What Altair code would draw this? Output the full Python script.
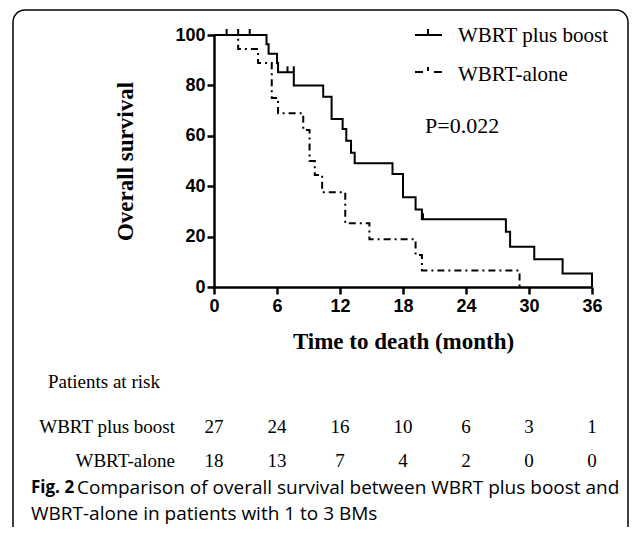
import altair as alt
import pandas as pd

# ---- data ----
boost_t = [0, 5.0, 5.2, 6.0, 6.1, 7.6, 10.4, 11.2, 12.25, 12.6, 13.05, 13.4,
           17.0, 18.0, 19.2, 19.8, 27.8, 28.2, 30.5, 33.2, 36.0, 36.0]
boost_s = [100, 96.3, 92.6, 88.9, 85.2, 80.0, 75.5, 66.7, 62.7, 58.0, 53.3, 49.1,
           44.8, 35.6, 30.8, 26.9, 21.9, 16.0, 11.0, 5.4, 5.4, 0]
alone_t = [0, 2.3, 4.2, 5.5, 6.1, 8.5, 9.1, 9.6, 10.3, 12.5, 14.8, 19.2, 19.8, 29.1]
alone_s = [100, 94.4, 88.9, 75.0, 68.9, 62.3, 50.0, 44.4, 37.6, 25.3, 18.9, 12.7, 6.5, 0]
boost_censor_t = [1.2, 2.3, 3.4, 7.0, 7.6, 19.9]
boost_censor_s = [100, 100, 100, 85.2, 85.2, 26.9]

risk_times = [0, 6, 12, 18, 24, 30, 36]
risk_boost = [27, 24, 16, 10, 6, 3, 1]
risk_alone = [18, 13, 7, 4, 2, 0, 0]

x_ticks = [0, 6, 12, 18, 24, 30, 36]
y_ticks = [0, 20, 40, 60, 80, 100]

boost_df = pd.DataFrame({"t": boost_t, "s": boost_s, "i": range(len(boost_t))})
alone_df = pd.DataFrame({"t": alone_t, "s": alone_s, "i": range(len(alone_t))})
cens_df = pd.DataFrame({"t": boost_censor_t, "s": boost_censor_s})
risk_b_df = pd.DataFrame({"t": risk_times, "n": risk_boost})
risk_a_df = pd.DataFrame({"t": risk_times, "n": risk_alone})
dummy = pd.DataFrame({"a": [0]})

W, H = 378, 252
SERIF = "Liberation Serif"
SANS = "Liberation Sans"

xaxis = alt.Axis(values=x_ticks, title="Time to death (month)", grid=False,
                 labelFont=SANS, labelFontWeight="bold", labelFontSize=18,
                 labelColor="black", labelPadding=3, labelFlush=False,
                 domainColor="black", domainWidth=2.5, tickColor="black",
                 tickWidth=2.5, tickSize=7,
                 titleFont=SERIF, titleFontSize=23, titleFontWeight="bold",
                 titleColor="black", titleX=W / 2, titleY=54, titleBaseline="middle")
yaxis = alt.Axis(values=y_ticks, title="Overall survival", grid=False,
                 labelFont=SANS, labelFontWeight="bold", labelFontSize=18,
                 labelColor="black", labelPadding=2, labelFlush=False,
                 domainColor="black", domainWidth=2.5, tickColor="black",
                 tickWidth=2.5, tickSize=7,
                 titleFont=SERIF, titleFontSize=23, titleFontWeight="bold",
                 titleColor="black", titleX=-89, titleY=H / 2, titleAngle=-90,
                 titleAlign="center", titleBaseline="middle")
xs = alt.Scale(domain=[0, 36], nice=False, zero=False)
ys = alt.Scale(domain=[0, 100], nice=False)
xenc = alt.X("t:Q", scale=xs, axis=xaxis)
yenc = alt.Y("s:Q", scale=ys, axis=yaxis)

boost_line = alt.Chart(boost_df).mark_line(
    interpolate="step-after", color="black", strokeWidth=2
).encode(x=xenc, y=yenc, order="i:Q")

alone_line = alt.Chart(alone_df).mark_line(
    interpolate="step-after", color="black", strokeWidth=2, strokeDash=[7, 4, 2, 4]
).encode(x=xenc, y=yenc, order="i:Q")

censor = alt.Chart(cens_df).mark_point(
    shape="M0,0L0,-1", size=144, filled=False, stroke="black", strokeWidth=2, opacity=1
).encode(x=xenc, y=yenc)


def rule(x1, x2, y1, y2, dash=None, w=2):
    kw = {"strokeDash": dash} if dash else {}
    return alt.Chart(dummy).mark_rule(color="black", strokeWidth=w, **kw).encode(
        x=alt.value(x1), x2=alt.value(x2), y=alt.value(y1), y2=alt.value(y2))


def text(x, y, s, font=SERIF, size=18, weight="normal", align="left"):
    return alt.Chart(dummy).mark_text(
        font=font, fontSize=size, fontWeight=weight, align=align,
        baseline="middle", color="black"
    ).encode(x=alt.value(x), y=alt.value(y), text=alt.value(s))


OX, OY = 214, 35  # plot origin on the page

legend = [
    rule(415 - OX, 442 - OX, 0, 0),
    rule(428 - OX, 428 - OX, -6, 0),
    rule(415 - OX, 423 - OX, 72 - OY, 72 - OY),
    rule(434 - OX, 442 - OX, 72 - OY, 72 - OY),
    rule(428 - OX, 428 - OX, 67 - OY, 71 - OY),
    text(458 - OX, 36 - OY, "WBRT plus boost", size=21),
    text(458 - OX, 75 - OY, "WBRT-alone", size=21),
    text(425 - OX, 126 - OY, "P=0.022", size=22),
]

table = [
    text(48 - OX, 382 - OY, "Patients at risk", size=19),
    text(175 - OX, 427 - OY, "WBRT plus boost", size=19, align="right"),
    text(175 - OX, 461 - OY, "WBRT-alone", size=19, align="right"),
    alt.Chart(risk_b_df).mark_text(font=SERIF, fontSize=19, color="black",
                                   baseline="middle").encode(
        x=xenc, y=alt.value(427 - OY), text="n:Q"),
    alt.Chart(risk_a_df).mark_text(font=SERIF, fontSize=19, color="black",
                                   baseline="middle").encode(
        x=xenc, y=alt.value(461 - OY), text="n:Q"),
]

caption = [
    text(31 - OX, 488 - OY, "Fig. 2", font="Open Sans", size=17, weight="bold"),
    text(77 - OX, 488 - OY, "Comparison of overall survival between WBRT plus boost and",
         font="Open Sans", size=19),
    text(31 - OX, 514 - OY, "WBRT-alone in patients with 1 to 3 BMs",
         font="Open Sans", size=19),
]

border = alt.Chart(dummy).mark_rect(
    fillOpacity=0, stroke="black", strokeWidth=1.5, cornerRadius=12
).encode(x=alt.value(13 - OX), x2=alt.value(628 - OX),
         y=alt.value(10 - OY), y2=alt.value(560 - OY))

chart = alt.layer(
    boost_line, alone_line, censor, *legend, *table, *caption, border
).properties(
    width=W, height=H,
    padding={"left": 206, "top": 27, "right": 37, "bottom": 240},
    autosize="none",
).configure_view(stroke=None)

chart.save("out.html", embed_options={"renderer": "svg", "actions": False})
